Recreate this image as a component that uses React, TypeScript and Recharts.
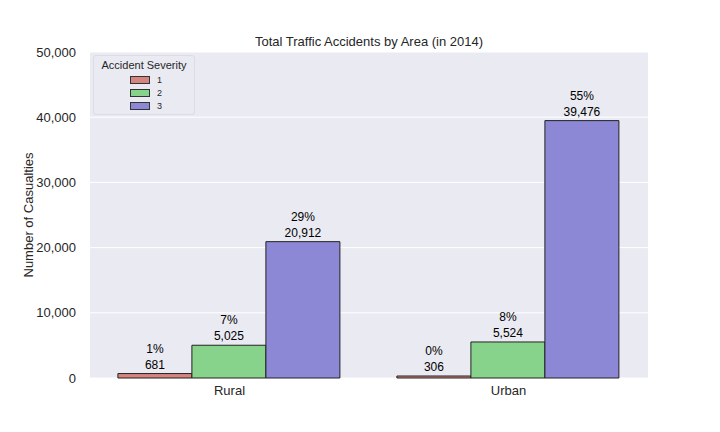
import React from 'react';
import { BarChart, Bar, XAxis, YAxis, CartesianGrid, LabelList } from 'recharts';

const areas = ['Rural', 'Urban'];
const severity1 = [681, 306];
const severity2 = [5025, 5524];
const severity3 = [20912, 39476];
const yTicks = [0, 10000, 20000, 30000, 40000, 50000];

const series = [
  { key: 's1', name: '1', color: '#d6847f', values: severity1 },
  { key: 's2', name: '2', color: '#88d38b', values: severity2 },
  { key: 's3', name: '3', color: '#8c88d6', values: severity3 },
];

const data = areas.map((area, i) => ({
  area,
  s1: severity1[i],
  s2: severity2[i],
  s3: severity3[i],
}));

const total = [...severity1, ...severity2, ...severity3].reduce((a, b) => a + b, 0);

const FONT = 'Arial, "Liberation Sans", sans-serif';

const BarLabel = (props: any) => {
  const { x, y, width, value } = props;
  const cx = x + width / 2;
  const pct = Math.round((value / total) * 100);
  return (
    <g>
      <text x={cx} y={y - 21} textAnchor="middle" fontSize={12} fill="#000" fontFamily={FONT}>
        {pct}%
      </text>
      <text x={cx} y={y - 5} textAnchor="middle" fontSize={12} fill="#000" fontFamily={FONT}>
        {value.toLocaleString('en-US')}
      </text>
    </g>
  );
};

const LegendBox = () => (
  <div
    style={{
      position: 'absolute',
      left: 93,
      top: 55,
      width: 102,
      height: 60,
      boxSizing: 'border-box',
      border: '1px solid #dcdce4',
      borderRadius: 3,
      background: 'rgba(234,234,242,0.8)',
      fontFamily: FONT,
      color: '#262626',
      paddingTop: 3,
    }}
  >
    <div style={{ fontSize: 11, textAlign: 'center', lineHeight: '13px', marginBottom: 1 }}>Accident Severity</div>
    {series.map((s) => (
      <div key={s.key} style={{ display: 'flex', alignItems: 'center', height: 13, paddingLeft: 36 }}>
        <span
          style={{
            display: 'inline-block',
            width: 20,
            height: 8,
            background: s.color,
            border: '1px solid #333',
            boxSizing: 'border-box',
          }}
        />
        <span style={{ fontSize: 9, marginLeft: 7 }}>{s.name}</span>
      </div>
    ))}
  </div>
);

// y axis title, placed where the reference has it
const YLabel = () => (
  <text
    x={33}
    y={215}
    transform="rotate(-90 33 215)"
    textAnchor="middle"
    fontSize={13}
    fill="#262626"
    fontFamily={FONT}
  >
    Number of Casualties
  </text>
);

export default function App() {
  return (
    <div style={{ position: 'absolute', left: 0, top: 0, width: 720, height: 432, background: '#fff' }}>
      <BarChart
        width={720}
        height={432}
        data={data}
        margin={{ top: 52, right: 72, bottom: 24, left: 0 }}
        barCategoryGap="10%"
        barGap={0}
      >
        <CartesianGrid vertical={false} stroke="#ffffff" fill="#eaeaf2" />
        <XAxis
          dataKey="area"
          height={30}
          axisLine={false}
          tickLine={false}
          tick={{ fontSize: 13, fill: '#262626', fontFamily: FONT }}
          tickMargin={2}
        />
        <YAxis
          width={90}
          domain={[0, 50000]}
          ticks={yTicks}
          axisLine={false}
          tickLine={false}
          tick={{ fontSize: 13, fill: '#262626', fontFamily: FONT }}
          tickMargin={8}
          tickFormatter={(v: number) => v.toLocaleString('en-US')}
        />
        {series.map((s) => (
          <Bar
            key={s.key}
            dataKey={s.key}
            name={s.name}
            fill={s.color}
            stroke="#222"
            strokeWidth={1}
            isAnimationActive={false}
          >
            <LabelList dataKey={s.key} content={<BarLabel />} />
          </Bar>
        ))}
        <text x={369} y={46} textAnchor="middle" fontSize={13} fill="#262626" fontFamily={FONT}>
          Total Traffic Accidents by Area (in 2014)
        </text>
        <YLabel />
      </BarChart>
      <LegendBox />
    </div>
  );
}
